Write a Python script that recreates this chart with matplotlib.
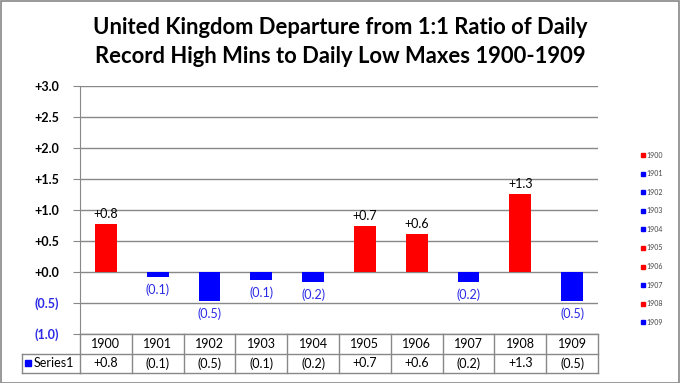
import matplotlib.pyplot as plt
from matplotlib.patches import Rectangle
from matplotlib.transforms import blended_transform_factory
import numpy as np

years = ["1900", "1901", "1902", "1903", "1904", "1905", "1906", "1907", "1908", "1909"]
values = [0.78, -0.08, -0.47, -0.13, -0.16, 0.74, 0.62, -0.16, 1.26, -0.47]
yticks = [-1.0, -0.5, 0.0, 0.5, 1.0, 1.5, 2.0, 2.5, 3.0]

RED = "#ff0000"
BLUE = "#0000ff"
LBLUE = "#2a2ae6"
GRID = "#888888"

def fmt(v):
    return "+%.1f" % v if v >= 0 else "(%.1f)" % abs(v)

plt.rcParams['font.family'] = ['Lato', 'DejaVu Sans']

fig = plt.figure(figsize=(6.8, 3.83), dpi=100)
W, H = 680, 383
ax = fig.add_axes([80 / W, 1 - 334 / H, (598 - 80) / W, (334 - 86) / H])

x = np.arange(len(years))
colors = [RED if v >= 0 else BLUE for v in values]
ax.bar(x, values, width=0.42, color=colors, zorder=3)

for xi, v in zip(x, values):
    if v >= 0:
        ax.text(xi, v + 0.06, fmt(v), ha="center", va="bottom", fontsize=9, color="black")
    else:
        ax.text(xi, v - 0.1, fmt(v), ha="center", va="top", fontsize=9, color=LBLUE)

ax.set_xlim(-0.5, len(years) - 0.5)
ax.set_ylim(-1.0, 3.0)
ax.set_yticks(yticks)
ax.set_yticklabels([fmt(t) for t in yticks], fontsize=9, fontweight="bold")
for lab, t in zip(ax.get_yticklabels(), yticks):
    lab.set_color("black" if t >= 0 else LBLUE)
ax.yaxis.grid(True, color=GRID, linewidth=1, zorder=0)
ax.tick_params(axis="y", length=5, color=GRID, pad=10)
ax.tick_params(axis="x", length=0, labelbottom=False)
for s in ["top", "right", "bottom"]:
    ax.spines[s].set_visible(False)
ax.spines["left"].set_color(GRID)

# data table below the plot
tr = blended_transform_factory(ax.transData, ax.transAxes)
row_h = 19.5 / (334 - 86)
for i in range(len(years) + 1):
    ax.plot([i - 0.5, i - 0.5], [0, -2 * row_h], transform=tr, color=GRID, lw=1, clip_on=False)
for k in (1, 2):
    ax.plot([-0.5, len(years) - 0.5], [-k * row_h] * 2, transform=tr, color=GRID, lw=1, clip_on=False)
ax.plot([-0.5, len(years) - 0.5], [0, 0], transform=tr, color=GRID, lw=1, clip_on=False)
for i, (yr, v) in enumerate(zip(years, values)):
    ax.text(i, -0.5 * row_h, yr, transform=tr, ha="center", va="center", fontsize=9, clip_on=False)
    ax.text(i, -1.5 * row_h, fmt(v), transform=tr, ha="center", va="center", fontsize=9, clip_on=False)

# Series1 cell
y1 = 1 - (334 + row_h * 248) / H
y2 = 1 - (334 + 2 * row_h * 248) / H
x0 = 22 / W
xa = 80 / W
fig.add_artist(plt.Line2D([x0, xa], [y1, y1], color=GRID, lw=1))
fig.add_artist(plt.Line2D([x0, xa], [y2, y2], color=GRID, lw=1))
fig.add_artist(plt.Line2D([x0, x0], [y1, y2], color=GRID, lw=1))
fig.add_artist(Rectangle((25 / W, (y1 + y2) / 2 - 2.5 / H), 6 / W, 6 / H, color=BLUE))
fig.text(34 / W, (y1 + y2) / 2, "Series1", fontsize=9, va="center", ha="left")

# right legend
for i, (yr, c) in enumerate(zip(years, colors)):
    yy = 1 - (155 + i * 18.6) / H
    fig.add_artist(Rectangle((641 / W, yy - 2 / H), 4 / W, 4 / H, color=c))
    fig.text(646 / W, yy, yr, fontsize=5, va="center", ha="left", color="#444444")

fig.text(0.5, 1 - 42 / H, "United Kingdom Departure from 1:1 Ratio of Daily\nRecord High Mins to Daily Low Maxes 1900-1909",
         ha="center", va="center", fontsize=15.8, fontweight="bold", linespacing=1.45)

fig.add_artist(Rectangle((0.5 / W, 0.5 / H), 1 - 1.5 / W, 1 - 1.5 / H, fill=False, edgecolor="#888888", lw=1.2))

fig.savefig("out.png", dpi=100)
